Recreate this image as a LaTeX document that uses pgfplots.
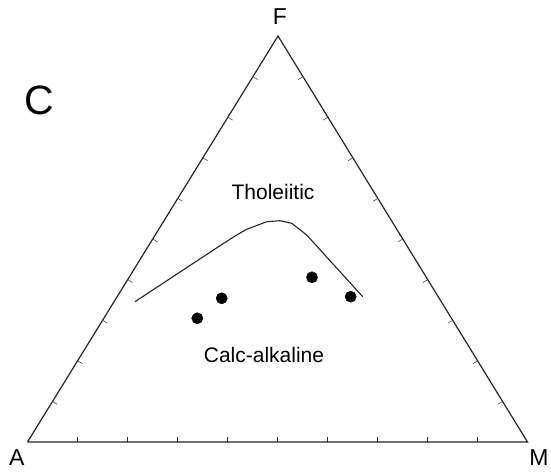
\documentclass[border=0pt]{standalone}
\usepackage{fontspec}
\setmainfont{Liberation Sans}
\usepackage{pgfplots}
\pgfplotsset{compat=1.18}

\begin{document}
\begin{tikzpicture}
\useasboundingbox (0,0) rectangle (551pt,471pt);
\begin{axis}[
    at={(0,0)}, anchor=south west,
    width=551pt, height=471pt, scale only axis,
    xmin=0, xmax=551, ymin=0, ymax=471,
    hide axis, clip=false,
    unbounded coords=jump,
]
% triangle A-M-F
\addplot[black!85, line width=1.2pt, mark=none] coordinates {
    (27.5,29) (527.5,29) (278,435) (27.5,29)
};
% bottom ticks (A-M side)
\addplot[black!85, line width=0.8pt, mark=none] coordinates {
    (77.5,29)(77.5,34) (77.5,nan)
    (127.5,29)(127.5,34) (127.5,nan)
    (177.5,29)(177.5,34) (177.5,nan)
    (227.5,29)(227.5,34) (227.5,nan)
    (277.5,29)(277.5,34) (277.5,nan)
    (327.5,29)(327.5,34) (327.5,nan)
    (377.5,29)(377.5,34) (377.5,nan)
    (427.5,29)(427.5,34) (427.5,nan)
    (477.5,29)(477.5,34)
};
% left side ticks (A-F side)
\addplot[black!70, line width=0.6pt, mark=none] coordinates {
    (52.55,69.6)(57.25,66.7) (0,nan)
    (77.6,110.2)(82.3,107.3) (0,nan)
    (102.65,150.8)(107.35,147.9) (0,nan)
    (127.7,191.4)(132.4,188.5) (0,nan)
    (152.75,232)(157.45,229.1) (0,nan)
    (177.8,272.6)(182.5,269.7) (0,nan)
    (202.85,313.2)(207.55,310.3) (0,nan)
    (227.9,353.8)(232.6,350.9) (0,nan)
    (252.95,394.4)(257.65,391.5)
};
% right side ticks (M-F side)
\addplot[black!70, line width=0.6pt, mark=none] coordinates {
    (502.55,69.6)(497.85,66.7) (0,nan)
    (477.6,110.2)(472.9,107.3) (0,nan)
    (452.65,150.8)(447.95,147.9) (0,nan)
    (427.7,191.4)(423,188.5) (0,nan)
    (402.75,232)(398.05,229.1) (0,nan)
    (377.8,272.6)(373.1,269.7) (0,nan)
    (352.85,313.2)(348.15,310.3) (0,nan)
    (327.9,353.8)(323.2,350.9) (0,nan)
    (302.95,394.4)(298.25,391.5)
};
% tholeiitic / calc-alkaline boundary
\addplot[black!85, line width=1.1pt, mark=none] coordinates {
    (135,169.3) (220,225.3) (236.7,236) (246.7,241.7)
    (266.7,249.3) (280,250.3) (291.7,247.7) (306.7,236)
    (362.7,174.3)
};
% samples
\addplot[only marks, mark=*, mark size=5.6pt, black] coordinates {
    (197.3,152.7) (221.7,172.7) (312,193.7) (350.7,174.3)
};
\node[anchor=base, font=\fontsize{23}{27}\selectfont] at (axis cs:280,446) {F};
\node[anchor=base, font=\fontsize{23}{27}\selectfont] at (axis cs:16.7,6) {A};
\node[anchor=base, font=\fontsize{23}{27}\selectfont] at (axis cs:539,6) {M};
\node[anchor=base, font=\fontsize{41}{48}\selectfont] at (axis cs:39.5,356) {C};
\node[anchor=base, font=\fontsize{21}{25}\selectfont] at (axis cs:273,271.5) {Tholeiitic};
\node[anchor=base, font=\fontsize{21}{25}\selectfont] at (axis cs:264,108) {Calc-alkaline};
\end{axis}
\end{tikzpicture}
\end{document}
